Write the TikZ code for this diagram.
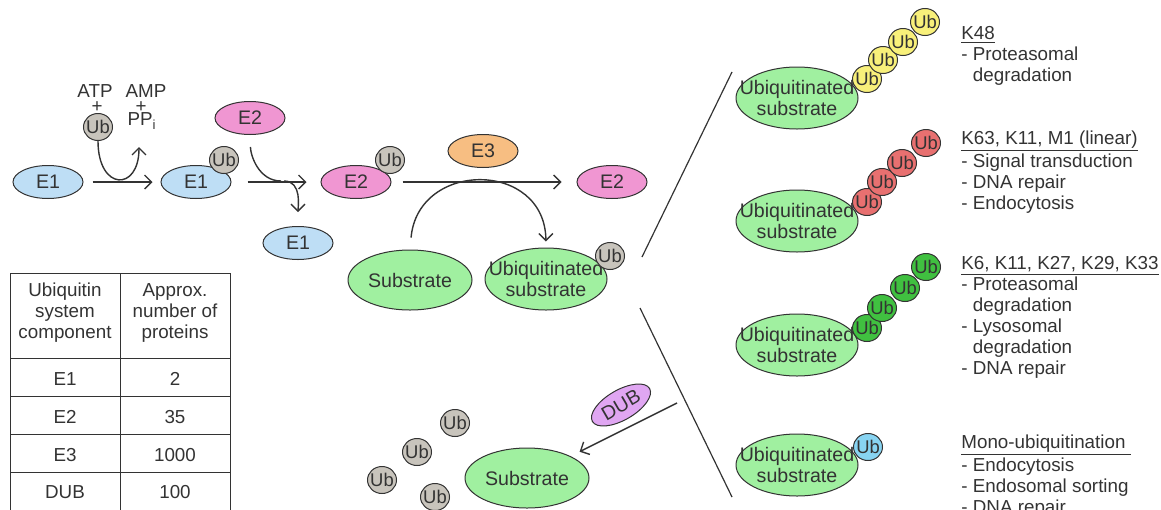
\documentclass[tikz,border=0pt]{standalone}
\usepackage{fontspec}
\setmainfont{Liberation Sans}
\usetikzlibrary{shapes.geometric,arrows.meta}
\definecolor{eoneblue}{HTML}{BEDEF5}
\definecolor{etwopink}{HTML}{F096D2}
\definecolor{ethreeorange}{HTML}{F7BE82}
\definecolor{subgreen}{HTML}{A0F0A0}
\definecolor{ubgray}{HTML}{C8C4BC}
\definecolor{ubyellow}{HTML}{F8F07A}
\definecolor{ubred}{HTML}{E87070}
\definecolor{ubgreen}{HTML}{40C040}
\definecolor{ubblue}{HTML}{88D4F2}
\definecolor{dubpurple}{HTML}{E0A6F2}
\definecolor{ink}{HTML}{333333}

\begin{document}
\begin{tikzpicture}[x=0.5pt,y=-0.5pt,
  every node/.style = {font=\fontsize{9.4}{10.5}\selectfont, text=ink},
  blob/.style = {ellipse, draw=ink, line width=0.5pt, inner sep=-2pt,
    font=\fontsize{9.8}{10.6}\selectfont},
  enz/.style = {blob, fill=#1, minimum width=35pt, minimum height=16.5pt},
  ub/.style = {blob, fill=#1, minimum width=14.5pt, minimum height=13.5pt,
    font=\fontsize{9.2}{9}\selectfont},
  ub/.default = ubgray,
  subst/.style = {blob, fill=subgreen, minimum width=62pt, minimum height=30pt},
  usub/.style = {subst, minimum width=61pt, minimum height=31pt,
    align=center, inner sep=-10pt},
  rx/.style = {draw=ink, line width=0.7pt,
    -{Straight Barb[length=3.5pt,width=7pt]}},
  info/.style = {anchor=north west, inner sep=0pt, align=left}]
  \useasboundingbox (0,0) rectangle (1161,509);

  \node[enz=eoneblue] (e1a) at (48,182) {E1};
  \node[inner sep=0pt] (atp) at (95,91) {ATP};
  \node[inner sep=0pt] (atpplus) at (97,107) {+};
  \node[ub] (ub0) at (98,127) {Ub};
  \node[inner sep=0pt] (amp) at (146,91) {AMP};
  \node[inner sep=0pt] (ampplus) at (141,107) {+};
  \node[inner sep=0pt] (ppi) at (142,121) {PP\textsubscript{i}};
  \coordinate (pptip) at (139,147);
  \node[enz=eoneblue] (e1b) at (196,182) {E1};
  \node[ub] (ub1) at (224,160) {Ub};
  \node[enz=etwopink] (e2a) at (250,118) {E2};
  \node[enz=eoneblue] (e1c) at (298,243) {E1};
  \node[enz=etwopink] (e2b) at (356,182) {E2};
  \node[ub] (ub2) at (390,160) {Ub};
  \node[enz=ethreeorange] (e3) at (483,151) {E3};
  \node[enz=etwopink] (e2c) at (612,182) {E2};
  \node[subst] (sub1) at (410,280) {Substrate};
  \node[usub] (us0) at (546,279) {Ubiquitinated\\substrate};
  \node[ub] (ub3) at (610,256) {Ub};
  \coordinate (j1) at (281,181);
  \coordinate (j2) at (284,181);

  \draw[rx, shorten <=4.5pt, shorten >=4pt] (e1a) -- (e1b);
  \draw[rx] (ub0.south) .. controls +(0,50) and +(0,45) .. (pptip);
  \draw[rx, shorten <=8pt, shorten >=7pt] (e1b) -- (e2b);
  \draw[draw=ink, line width=0.7pt, shorten <=6pt] (e2a.south) to[out=-88,in=180] (j1);
  \draw[rx, shorten >=7pt] (j2) to[out=0,in=90] (e1c.north);
  \draw[rx, shorten <=5.5pt, shorten >=7.5pt] (e2b) -- (e2c);
  \draw[rx, shorten <=6pt, shorten >=3pt] (sub1.north) .. controls (418,160) and (545,160) .. (us0.north);

  \coordinate (fanA) at (642,257);
  \coordinate (fanB) at (732,72);
  \coordinate (fanC) at (640,308);
  \coordinate (fanD) at (732,497);
  \draw[draw=ink, line width=0.6pt] (fanA) -- (fanB) (fanC) -- (fanD);

  \node[usub] (us1) at (797,98) {Ubiquitinated\\substrate};
  \foreach \x/\y [count=\i] in {867/79, 883/60, 903/42, 925/22}
    \node[ub=ubyellow] (ka\i) at (\x,\y) {Ub};
  \node[usub] (us2) at (797,221) {Ubiquitinated\\substrate};
  \foreach \x/\y [count=\i] in {867/202, 882/182, 902/163, 926/143}
    \node[ub=ubred] (kb\i) at (\x,\y) {Ub};
  \node[usub] (us3) at (797,345) {Ubiquitinated\\substrate};
  \foreach \x/\y [count=\i] in {867/328, 882/308, 905/288, 926/267}
    \node[ub=ubgreen] (kc\i) at (\x,\y) {Ub};
  \node[usub] (us4) at (797,465) {Ubiquitinated\\substrate};
  \node[ub=ubblue] (kd1) at (868,447) {Ub};

  \node[info] (k48) at (961,26) {\underline{K48}\\- Proteasomal\\\hphantom{- }degradation};
  \node[info] (k63) at (961,130) {\underline{K63, K11, M1 (linear)}\\- Signal transduction\\- DNA repair\\- Endocytosis};
  \node[info] (k6) at (961,256) {\underline{K6, K11, K27, K29, K33}\\- Proteasomal\\\hphantom{- }degradation\\- Lysosomal\\\hphantom{- }degradation\\- DNA repair};
  \node[info] (mono) at (961,434) {\underline{Mono-ubiquitination\ }\\- Endocytosis\\- Endosomal sorting\\- DNA repair};

  \node[subst] (sub2) at (527,478) {Substrate};
  \node[blob, fill=dubpurple, minimum width=33pt, minimum height=15pt, rotate=30] (dub) at (621,405) {DUB};
  \coordinate (dubtail) at (677,403);
  \draw[rx, shorten >=5pt] (dubtail) -- (sub2);
  \foreach \x/\y [count=\i] in {455/423, 417/452, 382/480, 435/497}
    \node[ub] (free\i) at (\x,\y) {Ub};

  \draw[draw=ink, line width=0.5pt] (10,273) rectangle (230,515);
  \draw[draw=ink, line width=0.5pt] (120,273) -- (120,515);
  \foreach \y in {358,396,434,472}
    \draw[draw=ink, line width=0.5pt] (10,\y) -- (230,\y);
  \node[align=center] (hcomp) at (65,313) {Ubiquitin\\system\\component};
  \node[align=center] (hnum) at (175,313) {Approx.\\number of\\proteins};
  \foreach \name/\num/\y in {E1/2/379, E2/35/417, E3/1000/455, DUB/100/492} {
    \node (c\name) at (65,\y) {\name};
    \node (n\name) at (175,\y) {\num};
  }
\end{tikzpicture}
\end{document}
